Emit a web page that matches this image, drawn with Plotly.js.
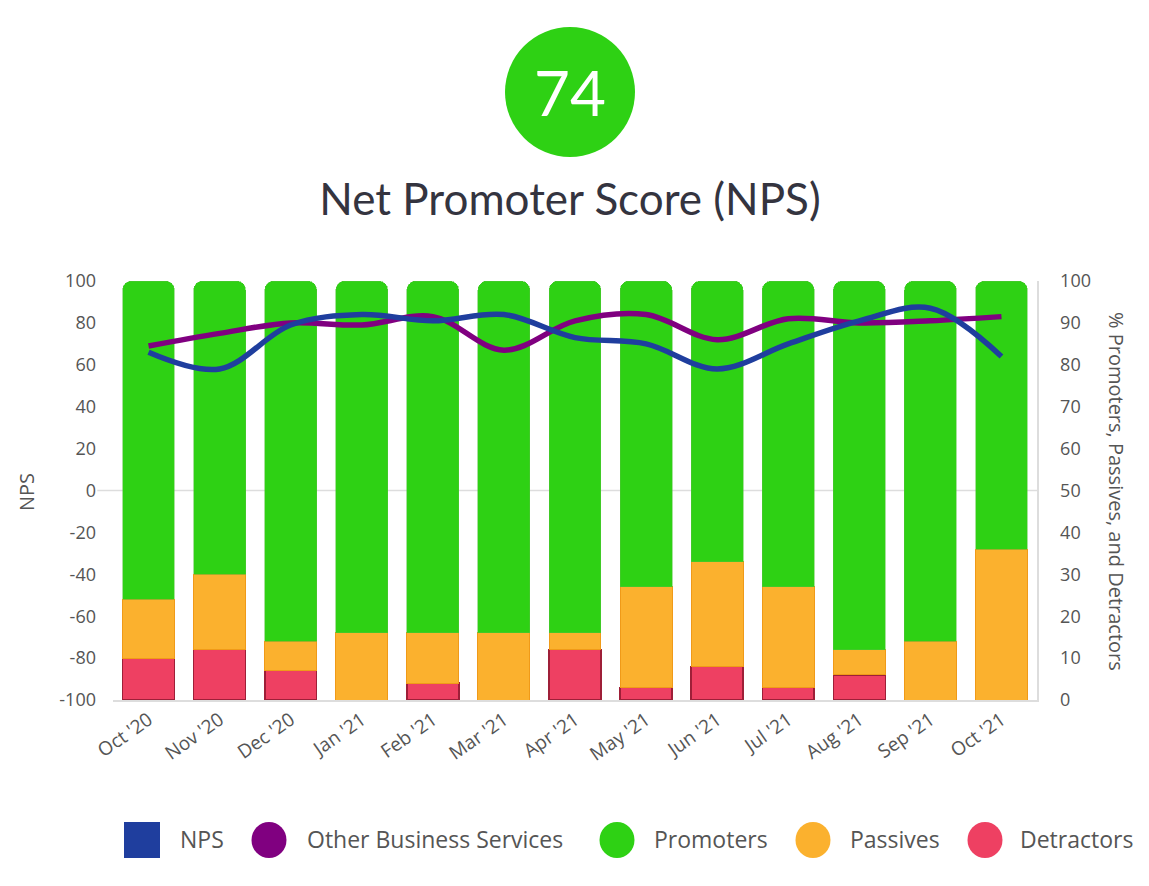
<!DOCTYPE html>
<html>
<head>
<meta charset="utf-8">
<script src="https://cdn.plot.ly/plotly-3.0.1.min.js"></script>
<style>html,body{margin:0;padding:0;background:#fff;}#chart{width:1149px;height:886px;}</style>
</head>
<body>
<div id="chart"></div>
<script>
const months = ["Oct '20","Nov '20","Dec '20","Jan '21","Feb '21","Mar '21","Apr '21","May '21","Jun '21","Jul '21","Aug '21","Sep '21","Oct '21"];
const detractors = [10, 12, 7, 0, 4, 0, 12, 3, 8, 3, 6, 0, 0];
const passives   = [14, 18, 7, 16, 12, 16, 4, 24, 25, 24, 6, 14, 36];
const promoters  = [76, 70, 86, 84, 84, 84, 84, 73, 67, 73, 88, 86, 64];
const nps        = [66, 58, 79, 84, 81, 84, 73, 70, 58, 70, 81, 87, 64];
const otherBiz   = [69, 75, 80, 79, 83, 67, 81, 84, 72, 82, 80, 81, 83];
const leftTicks  = [-100, -80, -60, -40, -20, 0, 20, 40, 60, 80, 100];
const rightTicks = [0, 10, 20, 30, 40, 50, 60, 70, 80, 90, 100];
const scoreText = "74";
const chartTitle = "Net Promoter Score (NPS)";
const rightTitle = "% Promoters, Passives, and Detractors";
const leftTitle = "NPS";
const legendItems = [
  {name: "NPS", color: "#1F3E9E", shape: "rect", cx: 142, tx: 178},
  {name: "Other Business Services", color: "#800080", shape: "circle", cx: 269, tx: 305},
  {name: "Promoters", color: "#2ED114", shape: "circle", cx: 617, tx: 652},
  {name: "Passives", color: "#FBB12E", shape: "circle", cx: 813, tx: 848},
  {name: "Detractors", color: "#EE4062", shape: "circle", cx: 985, tx: 1018}
];

const W = 1149, H = 886;
const L = 113, R = 1037, T = 281, B = 700;
const px = x => (x - L) / (R - L);
const py = y => (B - y) / (B - T);
const FONT = "'Open Sans', Lato, sans-serif";
const TFONT = "Lato, 'Open Sans', sans-serif";
const GREY = "#555555";

const traces = [
  {type: "bar", name: "Detractors", x: months, y: detractors, yaxis: "y",
   marker: {color: "#EE4062", line: {color: "#9E1F38", width: 1.5}}, hoverinfo: "y+name"},
  {type: "bar", name: "Passives", x: months, y: passives, yaxis: "y",
   marker: {color: "#FBB12E", line: {color: "#F09A18", width: 1}}, hoverinfo: "y+name"},
  {type: "bar", name: "Promoters", x: months, y: promoters, yaxis: "y",
   marker: {color: "#2ED114", line: {color: "#52C43A", width: 0.5}}, hoverinfo: "y+name"},
  {type: "scatter", mode: "lines", name: "Other Business Services", x: months, y: otherBiz, yaxis: "y2",
   line: {color: "#800080", width: 5.5, shape: "spline", smoothing: 1}},
  {type: "scatter", mode: "lines", name: "NPS", x: months, y: nps, yaxis: "y2",
   line: {color: "#1F3E9E", width: 5.5, shape: "spline", smoothing: 1}}
];

const shapes = [
  {type: "line", xref: "paper", yref: "y", x0: -0.017, x1: 1, y0: 50, y1: 50,
   line: {color: "#dddddd", width: 1.5}, layer: "below"},
  {type: "circle", xref: "paper", yref: "paper",
   x0: px(505), x1: px(635), y0: py(157), y1: py(27),
   fillcolor: "#2ED114", line: {width: 0}}
];
const annotations = [
  {text: scoreText, xref: "paper", yref: "paper", x: px(570), y: py(92), showarrow: false,
   xanchor: "center", yanchor: "middle", font: {family: TFONT, size: 62, color: "#ffffff"}},
  {text: leftTitle, xref: "paper", yref: "paper", x: px(26), y: py(492), showarrow: false,
   textangle: -90, xanchor: "center", yanchor: "middle", font: {family: FONT, size: 20, color: GREY}},
  {text: rightTitle, xref: "paper", yref: "paper", x: px(1117), y: py(491), showarrow: false,
   textangle: 90, xanchor: "center", yanchor: "middle", font: {family: FONT, size: 20, color: GREY}}
];
legendItems.forEach(it => {
  if (it.shape === "rect") {
    shapes.push({type: "rect", xref: "paper", yref: "paper",
      x0: px(it.cx - 18), x1: px(it.cx + 18), y0: py(858), y1: py(822),
      fillcolor: it.color, line: {width: 0}});
  } else {
    shapes.push({type: "circle", xref: "paper", yref: "paper",
      x0: px(it.cx - 17.5), x1: px(it.cx + 17.5), y0: py(858), y1: py(822),
      fillcolor: it.color, line: {width: 0}});
  }
  annotations.push({text: it.name, xref: "paper", yref: "paper", x: px(it.tx), y: py(839),
    showarrow: false, xanchor: "left", yanchor: "middle",
    font: {family: FONT, size: 23, color: GREY}});
});

const layout = {
  width: W, height: H,
  margin: {l: L, r: W - R, t: T, b: H - B, pad: 0},
  paper_bgcolor: "#ffffff", plot_bgcolor: "#ffffff",
  showlegend: false,
  barmode: "stack", bargap: 0.27, barcornerradius: 9,
  font: {family: FONT, color: GREY},
  title: {text: chartTitle, xref: "container", yref: "container", x: 570 / W, y: 1 - 200 / H,
    xanchor: "center", yanchor: "middle", font: {family: TFONT, size: 44, color: "#34343f"}},
  xaxis: {type: "category", tickangle: -35, tickfont: {size: 19, color: GREY, family: FONT},
    showgrid: false, zeroline: false, showline: true, linecolor: "#dddddd", linewidth: 1.5,
    ticks: "", fixedrange: true},
  yaxis: {side: "right", range: [0, 100], tickvals: rightTicks, ticktext: rightTicks.map(String),
    showgrid: false, zeroline: false, showline: true, linecolor: "#dddddd", linewidth: 1.5,
    tickfont: {size: 18, color: GREY, family: FONT}, ticks: "", ticklabelstandoff: 18},
  yaxis2: {overlaying: "y", side: "left", range: [-100, 100], tickvals: leftTicks,
    ticktext: leftTicks.map(String), showgrid: false, zeroline: false, showline: false,
    tickfont: {size: 18, color: GREY, family: FONT}, ticks: "", ticklabelstandoff: 16},
  shapes: shapes,
  annotations: annotations
};

Plotly.newPlot("chart", traces, layout, {displayModeBar: false, staticPlot: true});
</script>
</body>
</html>
